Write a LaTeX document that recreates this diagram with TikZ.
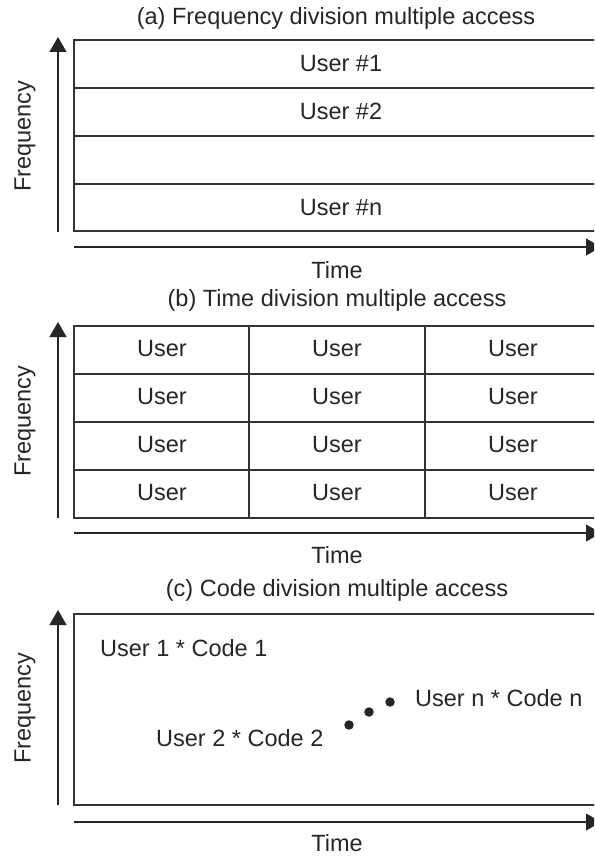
\documentclass[tikz,border=0pt]{standalone}
\usepackage{fontspec}
\setmainfont{Liberation Sans}
\usetikzlibrary{arrows.meta}
\begin{document}
\begin{tikzpicture}[x=1pt,y=-1pt,
  every node/.style={font=\fontsize{23.5}{27}\selectfont, text=black!85, inner sep=0pt},
  frame/.style={draw=black!80, line width=1.2pt},
  axis/.style={draw=black!85, line width=1.2pt, -{Triangle[length=15pt,width=17pt]}},
  ttl/.style={anchor=center},
  dot/.style={circle, fill=black!85, draw=none, inner sep=0pt, minimum size=9.5pt}]
\useasboundingbox (0,0) rectangle (594,856);
\clip (0,0) rectangle (594,856);

% ---- (a) FDMA ----
\node[ttl] (ta) at (336,18) {(a) Frequency division multiple access};
\coordinate (a0) at (58,232);
\coordinate (a1) at (58,37);
\draw[axis] (a0) -- (a1);
\coordinate (ah0) at (74,247);
\coordinate (ah1) at (601,247);
\draw[axis] (ah0) -- (ah1);
\draw[frame] (74,40) rectangle (610,231);
\foreach \y in {88,136,184} \draw[frame] (74,\y) -- (610,\y);
\node (u1) at (341,64) {User \#1};
\node (u2) at (341,111) {User \#2};
\node (un) at (341,208) {User \#n};
\node[rotate=90] (fa) at (25,136) {Frequency};
\node (tma) at (337,270) {Time};

% ---- (b) TDMA ----
\node[ttl] (tb) at (337,300) {(b) Time division multiple access};
\coordinate (b0) at (58,518);
\coordinate (b1) at (58,322);
\draw[axis] (b0) -- (b1);
\coordinate (bh0) at (74,533);
\coordinate (bh1) at (601,533);
\draw[axis] (bh0) -- (bh1);
\draw[frame] (74,326) rectangle (610,518);
\foreach \y in {374,422,470} \draw[frame] (74,\y) -- (610,\y);
\foreach \x in {249,425} \draw[frame] (\x,326) -- (\x,518);
\foreach \r/\y in {1/349,2/397,3/445,4/493}
  \foreach \c/\x in {1/162,2/337,3/513}
    \node (ub\r\c) at (\x,\y) {User};
\node[rotate=90] (fb) at (25,421) {Frequency};
\node (tmb) at (337,555) {Time};

% ---- (c) CDMA ----
\node[ttl] (tc) at (337,590) {(c) Code division multiple access};
\coordinate (c0) at (58,805);
\coordinate (c1) at (58,610);
\draw[axis] (c0) -- (c1);
\coordinate (ch0) at (74,822);
\coordinate (ch1) at (601,822);
\draw[axis] (ch0) -- (ch1);
\draw[frame] (74,614) rectangle (610,805);
\node[anchor=west] (c1t) at (100,648) {User 1 * Code 1};
\node[anchor=west] (c2t) at (156,738) {User 2 * Code 2};
\node[dot] (d1) at (349,725) {};
\node[dot] (d2) at (369,712) {};
\node[dot] (d3) at (390,702) {};
\node[anchor=west] (cnt) at (415,698) {User n * Code n};
\node[rotate=90] (fc) at (25,708) {Frequency};
\node (tmc) at (337,843) {Time};
\end{tikzpicture}
\end{document}
